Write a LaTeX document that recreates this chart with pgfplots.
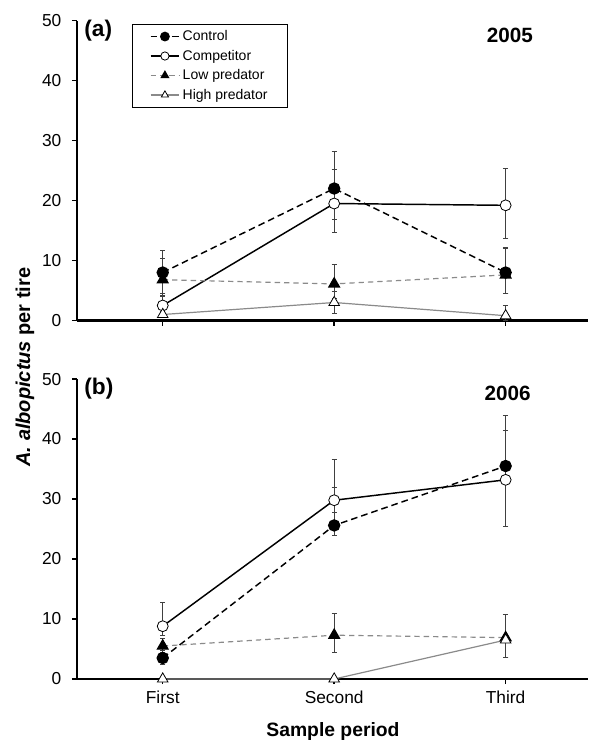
\documentclass[border=0pt]{standalone}
\usepackage{fontspec}
\setmainfont{Liberation Sans}
\usepackage{pgfplots}
\pgfplotsset{compat=1.18}
\definecolor{predgray}{HTML}{8A8A8A}
\definecolor{errgray}{HTML}{404040}
\pgfplotsset{
  panel/.style={
    scale only axis, width=383.25pt, height=225pt,
    xmin=-0.50, xmax=2.48, ymin=0, ymax=50,
    axis lines=left, axis line style={-, line width=1.6pt, black},
    xtick={0,1,2}, ytick={0,10,20,30,40,50},
    tick align=outside, major tick length=3.75pt,
    tick style={line width=1.1pt, black},
    /pgf/number format/assume math mode=true,
    ticklabel style={font=\fontsize{13}{15}\selectfont},
    yticklabel style={xshift=-4.5pt},
    xticklabel style={yshift=-2pt},
    clip=false,
    error bars/y dir=both, error bars/y explicit,
    error bars/error bar style={line width=0.5pt, errgray, solid},
    error bars/error mark options={rotate=90, mark size=2pt, line width=0.5pt, errgray, solid},
    legend image code/.code={\draw[mark repeat=2,mark phase=2,mark size=3.1pt] plot coordinates {(0cm,0cm) (0.38cm,0cm) (0.76cm,0cm)};},
  },
  ctrl/.style={black, line width=1.1pt, dash pattern=on 5pt off 3pt, mark=*, mark size=4.1pt, mark options={solid, fill=black, draw=black}},
  comp/.style={black, line width=1.1pt, solid, mark=*, mark size=4.1pt, mark options={solid, fill=white, draw=black, line width=0.6pt}},
  lowp/.style={predgray, line width=0.9pt, dash pattern=on 4pt off 3pt, mark=triangle*, mark size=4.6pt, mark options={solid, fill=black, draw=black}},
  highp/.style={predgray, line width=0.9pt, solid, mark=triangle*, mark size=4.6pt, mark options={solid, fill=white, draw=black, line width=0.6pt}},
}
\begin{document}
\begin{tikzpicture}
\useasboundingbox (-57.75pt,-322.9pt) rectangle (392.25pt,240.4pt);
% ---------------- panel (a) 2005
\begin{axis}[panel, at={(0pt,0pt)}, anchor=south west, xticklabels={,,},
  legend cell align=left,
  legend style={at={(rel axis cs:0.108,0.99)}, anchor=north west, draw=black,
    font=\fontsize{10.5}{12}\selectfont, inner xsep=13pt, inner ysep=3pt, row sep=1.5pt}]
\addplot[ctrl] coordinates {(0,8.0) += (0,3.7) -= (0,3.4) (1,22.0) += (0,6.2) -= (0,5.2) (2,8.0) += (0,4.2) -= (0,3.5)};
\addlegendentry{Control}
\addplot[comp] coordinates {(0,2.5) += (0,1.6) -= (0,1.4) (1,19.5) += (0,5.7) -= (0,4.8) (2,19.2) += (0,6.2) -= (0,5.5)};
\addlegendentry{Competitor}
\addplot[lowp] coordinates {(0,6.8) += (0,3.5) -= (0,2.6) (1,6.1) += (0,3.3) -= (0,2.4) (2,7.6) += (0,4.4) -= (0,3.1)};
\addlegendentry{Low predator}
\addplot[highp] coordinates {(0,1.0) += (0,0.5) -= (0,0.5) (1,3.0) += (0,1.8) -= (0,1.8) (2,0.8) += (0,1.7) -= (0,0.8)};
\addlegendentry{High predator}
\node[anchor=north west, font=\fontsize{17}{19}\bfseries\selectfont, inner sep=0pt] at (rel axis cs:0.014,1.003) {(a)};
\node[font=\fontsize{15.5}{17}\bfseries\selectfont] at (rel axis cs:0.847,0.95) {2005};
\end{axis}
% ---------------- panel (b) 2006
\begin{axis}[panel, at={(0pt,-268.9pt)}, anchor=south west, xticklabels={First,Second,Third}]
\addplot[ctrl] coordinates {(0,3.5) += (0,1.2) -= (0,1.0) (1,25.6) += (0,6.4) -= (0,1.7) (2,35.5) += (0,5.9) -= (0,1.5)};
\addplot[comp] coordinates {(0,8.8) += (0,3.9) -= (0,1.5) (1,29.8) += (0,6.8) -= (0,2.0) (2,33.2) += (0,10.8) -= (0,7.7)};
\addplot[lowp] coordinates {(0,5.5) += (0,1.3) -= (0,1.0) (1,7.3) += (0,3.7) -= (0,2.8) (2,6.9) += (0,3.8) -= (0,3.3)};
\addplot[highp] coordinates {(0,0) (1,0) (2,6.5) += (0,4.2) -= (0,2.9)};
\node[anchor=north west, font=\fontsize{17}{19}\bfseries\selectfont, inner sep=0pt] at (rel axis cs:0.014,1.003) {(b)};
\node[font=\fontsize{15.5}{17}\bfseries\selectfont] at (rel axis cs:0.843,0.953) {2006};
\end{axis}
\node[rotate=90, font=\fontsize{15}{17}\bfseries\selectfont] at (-39pt,-34.9pt) {\textit{A. albopictus} per tire};
\node[font=\fontsize{14.5}{17}\bfseries\selectfont] at (192pt,-307.9pt) {Sample period};
\end{tikzpicture}
\end{document}
